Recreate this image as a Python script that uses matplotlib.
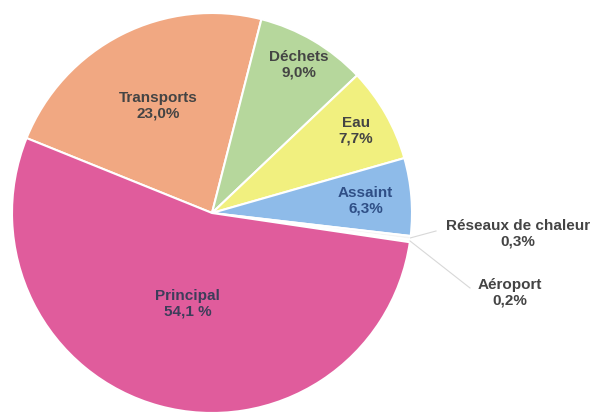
import numpy as np
import matplotlib.pyplot as plt

plt.rcParams['font.family'] = ['Liberation Sans', 'DejaVu Sans']

labels = ["Transports", "Déchets", "Eau", "Assaint", "Réseaux de chaleur", "Aéroport", "Principal"]
pct_text = ["23,0%", "9,0%", "7,7%", "6,3%", "0,3%", "0,2%", "54,1 %"]
values = [23.0, 9.0, 7.7, 6.3, 0.3, 0.2, 54.1]
colors = ["#f1a882", "#b6d79c", "#f1f07f", "#8ebbe9", "#f4f4f4", "#f8f8f8", "#e05c9c"]

fig = plt.figure(figsize=(5.98, 4.12), dpi=100)
ax = fig.add_axes([0, 0, 1, 1])

cx, cy, r = 212, 199, 200
wedges, _ = ax.pie(values, colors=colors, startangle=158, counterclock=False,
                   center=(cx, cy), radius=r, frame=True,
                   wedgeprops=dict(edgecolor="white", linewidth=1.5))
ax.set_xlim(0, 598)
ax.set_ylim(0, 412)
ax.set_aspect('equal')
ax.axis('off')

# label distance as fraction of radius (None = outside label)
dist = [0.60, 0.86, 0.83, 0.77, None, None, 0.47]
txt_col = "#444444"
fs = 11
for w, lab, pt, d in zip(wedges, labels, pct_text, dist):
    mid = np.deg2rad((w.theta1 + w.theta2) / 2)
    if d is not None:
        x = cx + d * r * np.cos(mid)
        y = cy + d * r * np.sin(mid)
        col = "#3d3d5a" if lab == "Principal" else txt_col
        if lab == "Assaint":
            col = "#2f4f86"
        ax.text(x, y, lab + "\n" + pt, ha="center", va="center", fontsize=fs,
                fontweight="bold", color=col, linespacing=1.15)

# outside labels for the two tiny slices
outside = {"Réseaux de chaleur": (518, 178), "Aéroport": (510, 119)}
line_end = {"Réseaux de chaleur": (436, 181), "Aéroport": (470, 124)}
for w, lab, pt in zip(wedges, labels, pct_text):
    if lab in outside:
        mid = np.deg2rad((w.theta1 + w.theta2) / 2)
        x0 = cx + r * np.cos(mid)
        y0 = cy + r * np.sin(mid)
        ex, ey = line_end[lab]
        ax.plot([x0, ex], [y0, ey], color="#d8d8d8", linewidth=0.8)
        tx, ty = outside[lab]
        ax.text(tx, ty, lab + "\n" + pt, ha="center", va="center", fontsize=fs,
                fontweight="bold", color=txt_col, linespacing=1.15)

fig.savefig("out.png", dpi=100)
